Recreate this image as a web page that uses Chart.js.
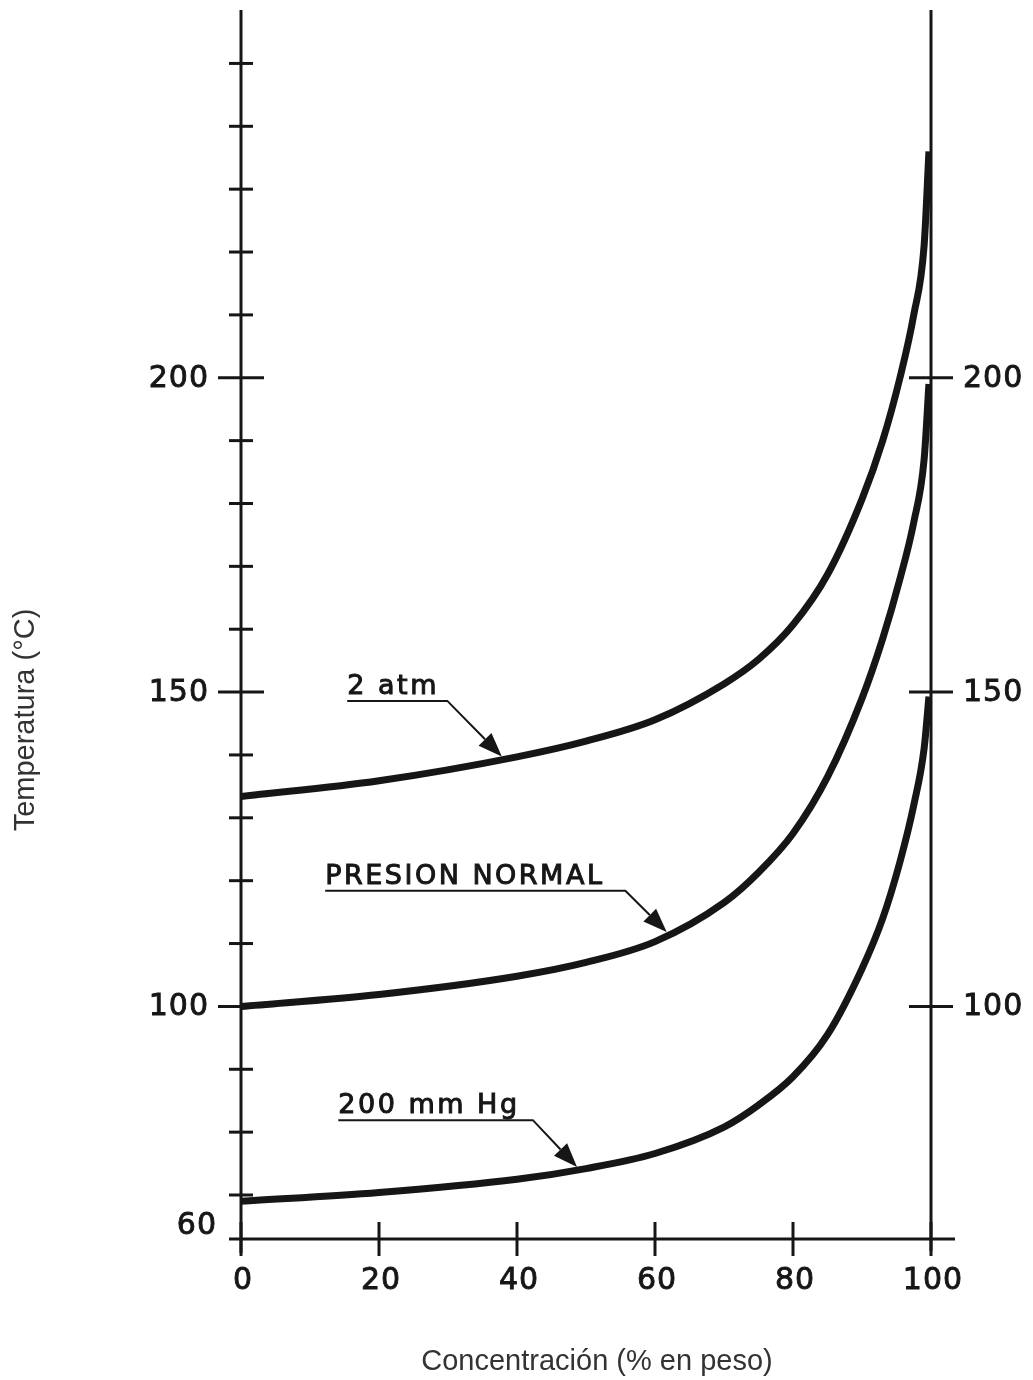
<!DOCTYPE html>
<html>
<head>
<meta charset="utf-8">
<script src="https://cdn.jsdelivr.net/npm/chart.js@4.4.1/dist/chart.umd.min.js"></script>
<style>
  body { margin: 0; background: #fff; }
  #chart { display: block; }
</style>
</head>
<body>
<canvas id="chart" width="1033" height="1380"></canvas>
<script>
// concentration (% en peso) where the curves were read
let concentration = [0, 20, 40, 50, 60, 70, 75, 80, 85, 90, 93, 95.5, 97.5, 99, 99.7];
// boiling temperature (°C) for each pressure
let temp2atm = [133.4, 135.9, 139.7, 142.2, 145.6, 151.3, 155.2, 160.7, 168.7, 180.7, 190, 200, 210, 221, 236];
let tempNormal = [100, 101.9, 104.8, 107, 110.3, 116.5, 121.3, 127.5, 136.5, 149, 158.5, 168, 177, 187, 199];
let temp200mm = [69, 70.4, 72.5, 74.2, 76.6, 80.8, 84.3, 88.8, 95.5, 106, 114, 123, 132, 141, 149.3];
let seriesNames = ["2 atm", "PRESION NORMAL", "200 mm Hg"];

// axis ticks
let xTicks = [0, 20, 40, 60, 80, 100];
let yMajor = [100, 150, 200];
let yMinor = [70, 80, 90, 110, 120, 130, 140, 160, 170, 180, 190, 210, 220, 230, 240, 250];
let yRightTicks = [100, 150, 200];
let yMin = 63;
let yMax = 258.5;
let yMinLabel = "60";

// label placement: start of text, underline level, end of underline, arrow target
let labelX = [15.4, 12.2, 14.1];
let labelLineY = [148.6, 118.4, 81.9];
let labelLineEndX = [29.9, 55.7, 42.3];
let arrowX = [37.8, 61.7, 48.7];

let ink = "#161616";
let seriesValues = [temp2atm, tempNormal, temp200mm];

function interp(xs, ys, v) {
    for (let i = 1; i < xs.length; i++) {
        if (v <= xs[i]) {
            let t = (v - xs[i - 1]) / (xs[i] - xs[i - 1]);
            return ys[i - 1] + t * (ys[i] - ys[i - 1]);
        }
    }
    return ys[ys.length - 1];
}

function seg(ctx, x1, y1, x2, y2) {
    ctx.beginPath();
    ctx.moveTo(x1, y1);
    ctx.lineTo(x2, y2);
    ctx.stroke();
}

// lettering a bit heavier than the plain font
function heavyText(ctx, txt, px, py, w) {
    ctx.lineWidth = w;
    ctx.strokeText(txt, px, py);
    ctx.fillText(txt, px, py);
}

// axes drawn by hand so the ticks can cross the lines
const axesPlugin = {
    id: "crossAxes",
    beforeDatasetsDraw(chart) {
        const { ctx } = chart;
        const x = chart.scales.x, y = chart.scales.y;
        const x0 = x.getPixelForValue(0), x1 = x.getPixelForValue(100);
        const yb = y.getPixelForValue(yMin), yt = y.getPixelForValue(yMax);
        ctx.save();
        ctx.strokeStyle = ink;
        ctx.lineWidth = 3;
        seg(ctx, x0, yt, x0, yb + 14);
        seg(ctx, x1, yt, x1, yb + 12);
        seg(ctx, x0 - 12, yb, x1 + 24, yb);
        yMinor.forEach(v => {
            let p = y.getPixelForValue(v);
            seg(ctx, x0 - 12, p, x0 + 12, p);
        });
        yMajor.forEach(v => {
            let p = y.getPixelForValue(v);
            seg(ctx, x0 - 23, p, x0 + 23, p);
        });
        yRightTicks.forEach(v => {
            let p = y.getPixelForValue(v);
            seg(ctx, x1 - 22, p, x1 + 22, p);
        });
        xTicks.forEach(v => {
            let p = x.getPixelForValue(v);
            seg(ctx, p, yb - 17, p, yb + 17);
        });

        // tick labels
        ctx.fillStyle = ink;
        ctx.font = '30px "DejaVu Sans"';
        ctx.letterSpacing = "1px";
        ctx.textBaseline = "middle";
        ctx.textAlign = "center";
        xTicks.forEach(v => {
            heavyText(ctx, String(v), x.getPixelForValue(v) + 2, yb + 42, 0.9);
        });
        ctx.textAlign = "right";
        yMajor.forEach(v => {
            heavyText(ctx, String(v), x0 - 32, y.getPixelForValue(v) + 1, 0.9);
        });
        heavyText(ctx, yMinLabel, x0 - 24, yb - 13, 0.9);
        ctx.textAlign = "left";
        yRightTicks.forEach(v => {
            heavyText(ctx, String(v), x1 + 32, y.getPixelForValue(v) + 1, 0.9);
        });

        // axis titles
        ctx.letterSpacing = "0px";
        ctx.fillStyle = "#333";
        ctx.font = '29px "Liberation Sans"';
        ctx.textAlign = "center";
        ctx.fillText("Concentración (% en peso)", 597, 1362);
        ctx.translate(26, 720);
        ctx.rotate(-Math.PI / 2);
        ctx.fillText("Temperatura (°C)", 0, 0);
        ctx.restore();
    },
    afterDatasetsDraw(chart) {
        const { ctx } = chart;
        const x = chart.scales.x, y = chart.scales.y;
        ctx.save();
        ctx.strokeStyle = ink;
        ctx.fillStyle = ink;
        ctx.font = '27px "DejaVu Sans"';
        ctx.letterSpacing = "2.5px";
        ctx.textAlign = "left";
        ctx.textBaseline = "alphabetic";
        seriesNames.forEach((name, i) => {
            let sx = x.getPixelForValue(labelX[i]);
            let ly = y.getPixelForValue(labelLineY[i]);
            let ex = x.getPixelForValue(labelLineEndX[i]);
            let tx = x.getPixelForValue(arrowX[i]);
            let ty = y.getPixelForValue(interp(concentration, seriesValues[i], arrowX[i])) - 3;
            heavyText(ctx, name, sx, ly - 7, 1);
            // underline and leader
            let ang = Math.atan2(ty - ly, tx - ex);
            let len = 24, half = 9;
            let bx = tx - len * Math.cos(ang), by = ty - len * Math.sin(ang);
            ctx.lineWidth = 2;
            ctx.beginPath();
            ctx.moveTo(sx, ly);
            ctx.lineTo(ex, ly);
            ctx.lineTo(bx, by);
            ctx.stroke();
            // arrow head
            ctx.beginPath();
            ctx.moveTo(tx, ty);
            ctx.lineTo(bx + half * Math.sin(ang), by - half * Math.cos(ang));
            ctx.lineTo(bx - half * Math.sin(ang), by + half * Math.cos(ang));
            ctx.closePath();
            ctx.fill();
        });
        ctx.restore();
    }
};

function toPoints(values) {
    return concentration.map((c, i) => ({ x: c, y: values[i] }));
}

const datasets = seriesValues.map((vals, i) => ({
    label: seriesNames[i],
    data: toPoints(vals),
    borderColor: ink,
    borderWidth: 7,
    pointRadius: 0,
    cubicInterpolationMode: "monotone",
    fill: false,
}));

const config = {
    type: "line",
    data: { datasets: datasets },
    options: {
        responsive: false,
        animation: false,
        layout: { padding: { left: 241, right: 102, top: 10, bottom: 141 } },
        plugins: {
            legend: { display: false },
            tooltip: { enabled: false },
        },
        scales: {
            x: { type: "linear", min: 0, max: 100, display: false },
            y: { type: "linear", min: yMin, max: yMax, display: false },
        },
    },
    plugins: [axesPlugin],
};

const myChart = new Chart(document.getElementById("chart"), config);
</script>
</body>
</html>
